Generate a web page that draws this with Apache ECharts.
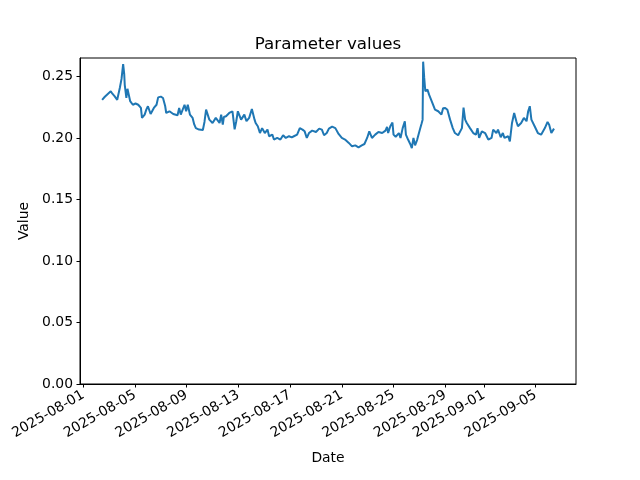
<!DOCTYPE html>
<html>
<head>
<meta charset="utf-8">
<script src="https://cdn.jsdelivr.net/npm/echarts@6/dist/echarts.min.js"></script>
<style>html,body{margin:0;padding:0;background:#fff;}#c{width:640px;height:480px;}</style>
</head>
<body>
<div id="c"></div>
<script>
const dates = [
'2025-08-02 11:00','2025-08-02 16:00','2025-08-02 22:00','2025-08-03 03:00','2025-08-03 06:00','2025-08-03 10:00','2025-08-03 15:00','2025-08-03 20:00','2025-08-03 23:00','2025-08-04 02:00',
'2025-08-04 04:00','2025-08-04 05:00','2025-08-04 08:00','2025-08-04 10:00','2025-08-04 12:00','2025-08-04 15:00','2025-08-04 20:00','2025-08-05 01:00','2025-08-05 06:00','2025-08-05 11:00',
'2025-08-05 13:00','2025-08-05 18:00','2025-08-05 21:00','2025-08-06 00:00','2025-08-06 05:00','2025-08-06 08:00','2025-08-06 11:00','2025-08-06 16:00','2025-08-06 19:00','2025-08-07 00:00',
'2025-08-07 04:00','2025-08-07 08:00','2025-08-07 10:00','2025-08-07 16:00','2025-08-07 23:00','2025-08-08 07:00','2025-08-08 10:00','2025-08-08 13:00','2025-08-08 20:00','2025-08-08 23:00',
'2025-08-09 02:00','2025-08-09 06:00','2025-08-09 11:00','2025-08-09 14:00','2025-08-09 17:00','2025-08-09 23:00','2025-08-10 06:00','2025-08-10 09:00','2025-08-10 12:00','2025-08-10 18:00',
'2025-08-11 00:00','2025-08-11 06:00','2025-08-11 13:00','2025-08-11 16:00','2025-08-11 19:00','2025-08-11 21:00','2025-08-12 01:00','2025-08-12 07:00','2025-08-12 13:00','2025-08-12 17:00',
'2025-08-12 20:00','2025-08-12 23:00','2025-08-13 02:00','2025-08-13 05:00','2025-08-13 11:00','2025-08-13 15:00','2025-08-13 20:00','2025-08-14 01:00','2025-08-14 06:00','2025-08-14 08:00',
'2025-08-14 12:00','2025-08-14 16:00','2025-08-14 20:00','2025-08-15 01:00','2025-08-15 06:00','2025-08-15 09:00','2025-08-15 15:00','2025-08-15 18:00','2025-08-16 00:00','2025-08-16 06:00',
'2025-08-16 11:00','2025-08-16 16:00','2025-08-16 22:00','2025-08-17 03:00','2025-08-17 07:00','2025-08-17 13:00','2025-08-17 18:00','2025-08-17 23:00','2025-08-18 03:00','2025-08-18 07:00',
'2025-08-18 11:00','2025-08-18 17:00','2025-08-19 00:00','2025-08-19 06:00','2025-08-19 11:00','2025-08-19 15:00','2025-08-19 20:00','2025-08-20 00:00','2025-08-20 06:00','2025-08-20 12:00',
'2025-08-20 18:00','2025-08-21 00:00','2025-08-21 06:00','2025-08-21 13:00','2025-08-21 19:00','2025-08-22 01:00','2025-08-22 07:00','2025-08-22 13:00','2025-08-22 18:00','2025-08-22 23:00',
'2025-08-23 03:00','2025-08-23 08:00','2025-08-23 14:00','2025-08-23 20:00','2025-08-24 03:00','2025-08-24 09:00','2025-08-24 12:00','2025-08-24 14:00','2025-08-24 18:00','2025-08-24 22:00',
'2025-08-25 00:00','2025-08-25 04:00','2025-08-25 06:00','2025-08-25 10:00','2025-08-25 13:00','2025-08-25 17:00','2025-08-25 21:00','2025-08-25 23:00','2025-08-26 03:00','2025-08-26 07:00',
'2025-08-26 10:00','2025-08-26 13:00','2025-08-26 16:00','2025-08-26 20:00','2025-08-27 01:00','2025-08-27 04:00','2025-08-27 06:00','2025-08-27 07:00','2025-08-27 09:00','2025-08-27 11:00',
'2025-08-27 15:00','2025-08-27 18:00','2025-08-27 23:00','2025-08-28 02:00','2025-08-28 05:00','2025-08-28 08:00','2025-08-28 11:00','2025-08-28 14:00','2025-08-28 17:00','2025-08-28 20:00',
'2025-08-29 00:00','2025-08-29 04:00','2025-08-29 09:00','2025-08-29 14:00','2025-08-29 18:00','2025-08-30 00:00','2025-08-30 07:00','2025-08-30 10:00','2025-08-30 13:00','2025-08-30 16:00',
'2025-08-30 22:00','2025-08-31 04:00','2025-08-31 09:00','2025-08-31 12:00','2025-08-31 15:00','2025-08-31 20:00','2025-09-01 02:00','2025-09-01 08:00','2025-09-01 14:00','2025-09-01 17:00',
'2025-09-01 23:00','2025-09-02 02:00','2025-09-02 07:00','2025-09-02 11:00','2025-09-02 14:00','2025-09-02 21:00','2025-09-03 00:00','2025-09-03 04:00','2025-09-03 08:00','2025-09-03 12:00',
'2025-09-03 15:00','2025-09-03 21:00','2025-09-04 02:00','2025-09-04 07:00','2025-09-04 10:00','2025-09-04 13:00','2025-09-04 16:00','2025-09-04 22:00','2025-09-05 04:00','2025-09-05 10:00',
'2025-09-05 17:00','2025-09-05 22:00','2025-09-06 01:00','2025-09-06 05:00','2025-09-06 10:00'
];
const values = [
0.231,0.2335,0.236,0.238,0.236,0.234,0.231,0.241,0.248,0.260,
0.252,0.243,0.2325,0.240,0.2407,0.230,0.227,0.228,0.227,0.2244,
0.2163,0.219,0.223,0.2258,0.2195,0.221,0.2244,0.227,0.233,0.2336,
0.2325,0.226,0.2203,0.2217,0.2195,0.2184,0.2244,0.219,0.227,0.2217,
0.227,0.219,0.2163,0.211,0.208,0.2068,0.2065,0.213,0.223,0.2149,
0.2122,0.2163,0.2122,0.219,0.2108,0.217,0.2176,0.2203,0.2217,0.207,
0.2136,0.2217,0.2228,0.2149,0.219,0.2136,0.2163,0.2235,0.2149,0.2122,
0.2095,0.204,0.208,0.204,0.2068,0.2014,0.2027,0.1987,0.200,0.1987,
0.2022,0.200,0.2014,0.2005,0.2014,0.2027,0.208,0.2068,0.2054,0.200,
0.204,0.206,0.2049,0.2076,0.2068,0.2022,0.204,0.2076,0.2092,0.208,
0.2033,0.200,0.1987,0.196,0.1932,0.194,0.1924,0.194,0.1951,0.200,
0.2054,0.200,0.2027,0.2049,0.204,0.206,0.209,0.204,0.2095,0.2125,
0.2027,0.201,0.200,0.204,0.200,0.208,0.2136,0.2027,0.1987,0.1951,
0.1918,0.200,0.194,0.1987,0.2068,0.2115,0.2149,0.262,0.2488,0.238,
0.2393,0.2352,0.2298,0.2285,0.223,0.2225,0.2217,0.221,0.219,0.2241,
0.2244,0.223,0.2149,0.208,0.204,0.2022,0.208,0.2246,0.2149,0.2122,
0.208,0.204,0.2027,0.208,0.200,0.2054,0.204,0.1987,0.200,0.2068,
0.204,0.2068,0.2006,0.204,0.200,0.2014,0.1972,0.2122,0.2203,0.2136,
0.2095,0.2122,0.2163,0.2136,0.2217,0.2258,0.2149,0.2095,0.204,0.2027,
0.208,0.213,0.2108,0.204,0.2076
];
const xTickDates = ['2025-08-01','2025-08-05','2025-08-09','2025-08-13','2025-08-17','2025-08-21','2025-08-25','2025-08-29','2025-09-01','2025-09-05'];
const yTicks = [0, 0.05, 0.10, 0.15, 0.20, 0.25];
const xRange = ['2025-07-31 17:54', '2025-09-08 02:48'];
const yRange = [0, 0.265];

function ts(s) {
  const p = s.split(/[- :]/).map(Number);
  return new Date(p[0], p[1] - 1, p[2], p[3] || 0, p[4] || 0).getTime();
}
function pad(n) { return (n < 10 ? '0' : '') + n; }
function fmtDate(v) {
  const d = new Date(v);
  return d.getFullYear() + '-' + pad(d.getMonth() + 1) + '-' + pad(d.getDate());
}

const seriesData = dates.map((d, i) => [ts(d), values[i]]);
const xTicks = xTickDates.map(ts);
const font = 'DejaVu Sans';

const chart = echarts.init(document.getElementById('c'), null, { renderer: 'canvas' });
chart.setOption({
  animation: false,
  backgroundColor: '#ffffff',
  title: {
    text: 'Parameter values',
    left: 323, top: 31, textAlign: 'center',
    textStyle: { fontFamily: font, fontSize: 16.7, fontWeight: 'normal', color: '#000' }
  },
  grid: {
    left: 80, right: 64, top: 58, bottom: 96,
    show: true, borderColor: '#000', borderWidth: 1, backgroundColor: 'transparent'
  },
  xAxis: {
    type: 'value',
    min: ts(xRange[0]), max: ts(xRange[1]),
    name: 'Date', nameLocation: 'middle', nameGap: 67,
    nameTextStyle: { fontFamily: font, fontSize: 13.9, color: '#000' },
    axisLine: { show: true, lineStyle: { color: '#000', width: 1 } },
    axisTick: { show: true, length: 3.5, inside: false, customValues: xTicks, lineStyle: { color: '#000', width: 1 } },
    axisLabel: {
      customValues: xTicks, rotate: 30, margin: 10,
      formatter: (v) => fmtDate(v),
      fontFamily: font, fontSize: 13.9, color: '#000', hideOverlap: false,
      showMinLabel: true, showMaxLabel: true
    },
    splitLine: { show: false },
    minorTick: { show: false }
  },
  yAxis: {
    type: 'value',
    min: yRange[0], max: yRange[1],
    name: 'Value', nameLocation: 'middle', nameGap: 43,
    nameTextStyle: { fontFamily: font, fontSize: 13.9, color: '#000' },
    axisLine: { show: true, lineStyle: { color: '#000', width: 1 } },
    axisTick: { show: true, length: 3.5, inside: false, customValues: yTicks, lineStyle: { color: '#000', width: 1 } },
    axisLabel: {
      customValues: yTicks, margin: 7,
      formatter: (v) => v.toFixed(2),
      fontFamily: font, fontSize: 13.9, color: '#000'
    },
    splitLine: { show: false }
  },
  series: [{
    type: 'line',
    data: seriesData,
    showSymbol: false,
    symbol: 'none',
    lineStyle: { color: '#1f77b4', width: 2 },
    itemStyle: { color: '#1f77b4' }
  }]
});
</script>
</body>
</html>
